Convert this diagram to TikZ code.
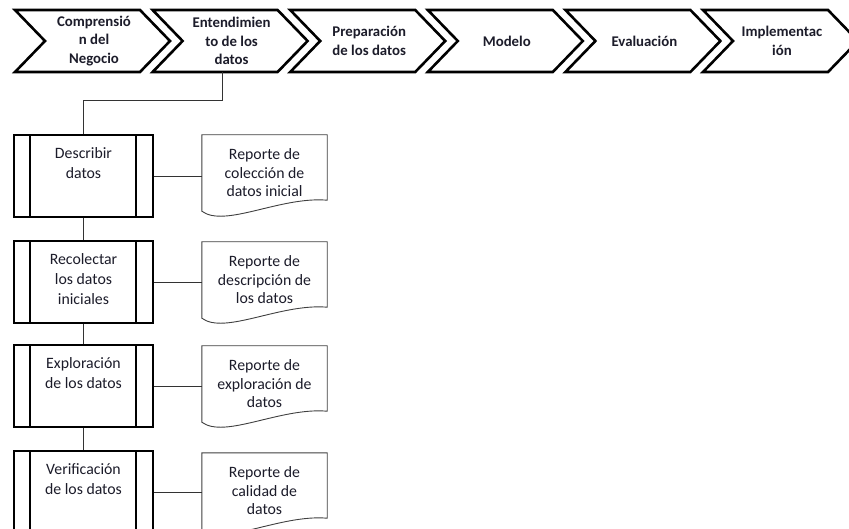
\documentclass[tikz,border=0pt]{standalone}
\usepackage{fontspec}
\setmainfont{Carlito}
\usetikzlibrary{calc}
\definecolor{txt}{RGB}{28,28,42}
\newcommand{\chev}[3]{%
  \draw[chevline] (#2,10) -- ++(125,0) -- ++(30,31) -- ++(-30,31) -- ++(-125,0) -- ++(30,-31) -- cycle;
  \node[chevtext] (#1) at (#2+79,41) {#3};}
\newcommand{\docout}[1]{%
  \draw[docline] (#1.north west) -- (#1.north east) -- ($(#1.south east)+(0,-11)$)
    .. controls ($(#1.south east)+(-47,-15)$) and ($(#1.south west)+(23,17)$) .. (#1.south west) -- cycle;}
\begin{document}
\begin{tikzpicture}[x=1pt,y=-1pt,
  chevline/.style={draw=black, line width=2.6pt, line join=miter, fill=white},
  chevtext/.style={align=center, inner sep=0pt, text=txt, font=\fontsize{14.8}{18.5}\selectfont\bfseries},
  proc/.style={draw=black, line width=1.1pt, minimum width=139pt, minimum height=82pt, inner sep=0pt,
    path picture={
      \draw[line width=1.1pt] ([xshift=16pt]path picture bounding box.north west) -- ([xshift=16pt]path picture bounding box.south west);
      \draw[line width=1.1pt] ([xshift=-17pt]path picture bounding box.north east) -- ([xshift=-17pt]path picture bounding box.south east);}},
  proclbl/.style={anchor=north, yshift=-13pt, align=center, inner sep=0pt, text=txt, font=\fontsize{15.8}{20}\selectfont},
  docbox/.style={minimum width=125pt, minimum height=76pt, inner sep=0pt, align=center, text=txt, font=\fontsize{15.8}{18.5}\selectfont},
  docline/.style={draw=black!75, line width=0.9pt},
  conn/.style={draw=black!80, line width=0.8pt}]
\useasboundingbox (0,0) rectangle (849,529);
\clip (0,0) rectangle (849,529);
\fill[white] (0,0) rectangle (849,529);

\chev{c1}{15}{Comprensió\\n del\\Negocio}
\chev{c2}{152.6}{Entendimien\\to de los\\datos}
\chev{c3}{290.2}{Preparación\\de los datos}
\chev{c4}{427.8}{Modelo}
\chev{c5}{565.4}{Evaluación}
\chev{c6}{703}{Implementac\\ión}
\coordinate (c2b) at (222,72);

\node[proc, label={[proclbl]north:{Describir\\datos}}] (b1) at (83.5,176) {};
\node[proc, label={[proclbl]north:{Recolectar\\los datos\\iniciales}}] (b2) at (83.5,282) {};
\node[proc, label={[proclbl]north:{Exploración\\de los datos}}] (b3) at (83.5,386) {};
\node[proc, label={[proclbl]north:{Verificación\\de los datos}}] (b4) at (83.5,492) {};

\node[docbox] (d1) at (264.5,173) {Reporte de\\colección de\\datos inicial};
\node[docbox] (d2) at (264.5,280) {Reporte de\\descripción de\\los datos};
\node[docbox] (d3) at (264.5,384) {Reporte de\\exploración de\\datos};
\node[docbox] (d4) at (264.5,491) {Reporte de\\calidad de\\datos};
\docout{d1}\docout{d2}\docout{d3}\docout{d4}

\draw[conn] (c2b) -- ++(0,28) -| (b1.north);
\draw[conn] (b1.south) -- (b2.north);
\draw[conn] (b2.south) -- (b3.north);
\draw[conn] (b3.south) -- (b4.north);
\draw[conn] (b1.east) -- (b1.east -| d1.west);
\draw[conn] (b2.east) -- (b2.east -| d2.west);
\draw[conn] (b3.east) -- (b3.east -| d3.west);
\draw[conn] (b4.east) -- (b4.east -| d4.west);
\end{tikzpicture}
\end{document}
